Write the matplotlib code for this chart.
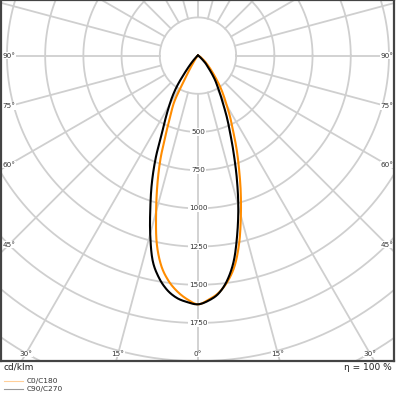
import numpy as np
import matplotlib.pyplot as plt
from matplotlib.lines import Line2D

# angles from nadir (deg) and intensities (cd/klm)
angles = [0, 2.5, 5, 7.5, 10, 12.5, 15, 17.5, 20, 22.5, 25, 27.5, 30,
          32.5, 35, 37.5, 40, 42.5, 45, 50, 60, 70, 90]
c180 = [1628, 1597, 1550, 1485, 1392, 1250, 1058, 883, 715, 540, 420, 320, 140,
        73, 40, 25, 15, 10, 7, 4, 2, 1, 0]
c0 = [1628, 1599, 1558, 1490, 1392, 1250, 1085, 930, 785, 660, 545, 458, 378,
      315, 260, 205, 160, 125, 97, 60, 20, 6, 0]
c270 = [1628, 1615, 1592, 1547, 1475, 1372, 1208, 1036, 880, 720, 556, 455, 373,
        302, 225, 140, 88, 55, 35, 15, 5, 2, 0]
c90 = [1628, 1605, 1562, 1480, 1358, 1190, 1020, 847, 686, 553, 450, 358, 290,
       237, 195, 150, 112, 86, 66, 30, 8, 3, 0]

ring_labels = [500, 750, 1000, 1250, 1500, 1750]
side_angles = [90, 75, 60, 45]
bottom_angles = [30, 15, 0]

grid_col = '#cfcfcf'
orange = '#ff8c00'

fig = plt.figure(figsize=(3.96, 3.96), dpi=100)
ax = fig.add_axes([1/396, 35/396, 393/396, 361/396])
ax.set_xlim(-1289, 1283)
ax.set_ylim(-1999, 364)
ax.set_xticks([])
ax.set_yticks([])
for s in ax.spines.values():
    s.set_color('#444444')
    s.set_linewidth(1.6)

# grid rings and radial lines
t = np.linspace(0, 2*np.pi, 400)
for r in range(250, 3001, 250):
    ax.plot(r*np.cos(t), r*np.sin(t), color=grid_col, lw=1.3, zorder=1)
for a in range(0, 360, 15):
    ar = np.radians(a)
    ax.plot([250*np.sin(ar), 3000*np.sin(ar)], [-250*np.cos(ar), -3000*np.cos(ar)],
            color=grid_col, lw=1.3, zorder=1)

for r in ring_labels:
    ax.text(0, -r, str(r), ha='center', va='center', fontsize=5.2, color='#333333',
            bbox=dict(facecolor='white', edgecolor='none', pad=0.6), zorder=2)

xe = 1237
for a in side_angles:
    y = 0 if a == 90 else -xe/np.tan(np.radians(a))
    for sx in (-1, 1):
        ax.text(sx*xe, y, f'{a}°', ha='center', va='center', fontsize=5.2, color='#333333',
                bbox=dict(facecolor='white', edgecolor='none', pad=0.3), zorder=2)
ye = -1953
for a in bottom_angles:
    x = -ye*np.tan(np.radians(a))
    for sx in ((-1, 1) if a else (1,)):
        ax.text(sx*x, ye, f'{a}°', ha='center', va='center', fontsize=5.2, color='#333333',
                bbox=dict(facecolor='white', edgecolor='none', pad=0.3), zorder=2)


def curve(left, right):
    th = np.radians(np.array(angles))
    L = np.array(left)
    R = np.array(right)
    xs = np.concatenate([-(L*np.sin(th))[::-1], (R*np.sin(th))[1:]])
    ys = np.concatenate([-(L*np.cos(th))[::-1], -(R*np.cos(th))[1:]])
    return xs, ys


# catmull-rom so the outline is drawn smooth through the read points
def smooth(xs, ys, n=10):
    P = np.column_stack([xs, ys])
    P = np.vstack([P[0], P, P[-1]])
    out = []
    for i in range(1, len(P) - 2):
        p0, p1, p2, p3 = P[i-1], P[i], P[i+1], P[i+2]
        for s in np.linspace(0, 1, n, endpoint=False):
            out.append(0.5*(2*p1 + (p2 - p0)*s + (2*p0 - 5*p1 + 4*p2 - p3)*s**2
                            + (3*p1 - p0 - 3*p2 + p3)*s**3))
    out.append(P[-2])
    out = np.array(out)
    return out[:, 0], out[:, 1]


x1, y1 = smooth(*curve(c180, c0))
x2, y2 = smooth(*curve(c270, c90))
ax.plot(x1, y1, color=orange, lw=1.5, zorder=3)
ax.plot(x2, y2, color='black', lw=1.5, zorder=4)

# texts below the diagram
fig.text(4/396, 1 - 367/396, 'cd/klm', fontsize=6.5, va='center', color='#222222')
fig.text(392/396, 1 - 367/396, 'η = 100 %', fontsize=6.5, va='center', ha='right', color='#222222')
fig.add_artist(Line2D([4/396, 23/396], [1 - 381/396]*2, color='#ffcf99', lw=0.8))
fig.add_artist(Line2D([4/396, 23/396], [1 - 388.5/396]*2, color='#999999', lw=0.8))
fig.text(27/396, 1 - 381/396, 'C0/C180', fontsize=5.3, va='center', color='#333333')
fig.text(27/396, 1 - 388.5/396, 'C90/C270', fontsize=5.3, va='center', color='#333333')

fig.savefig('out.png', dpi=100)
